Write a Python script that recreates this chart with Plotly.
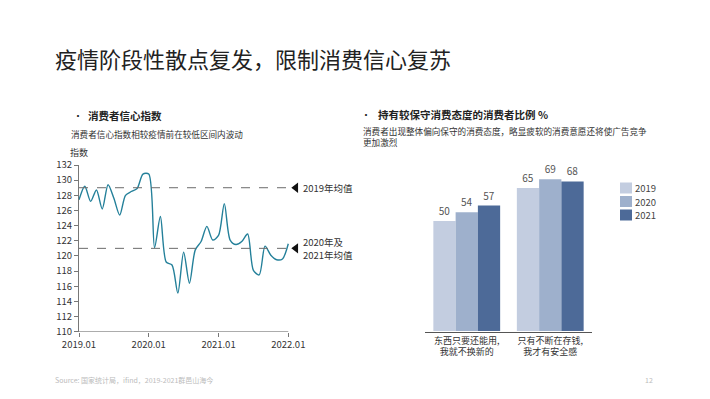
import plotly.graph_objects as go

# ---------------- data ----------------
months = list(range(37))  # 2019.01 .. 2022.01
confidence = [127.4, 129.2, 127.2, 128.7, 126.2, 129.4, 127.6, 125.4, 128.0, 128.5,
              128.9, 130.8, 130.8, 121.1, 125.2, 119.2, 118.8, 115.1, 120.5, 116.4,
              120.8, 121.9, 123.9, 122.1, 122.7, 126.9, 122.1, 121.5, 121.9, 122.9,
              118.1, 117.5, 121.3, 120.1, 119.5, 119.6, 121.6]
x_tickvals = [0, 12, 24, 36]
x_ticktext = ["2019.01", "2020.01", "2021.01", "2022.01"]
avg_2019 = 129
avg_2020_21 = 121
avg_label_2019 = "2019年均值"
avg_label_2020_21 = ["2020年及", "2021年均值"]

bar_categories = ["东西只要还能用,<br>我就不换新的", "只有不断在存钱,<br>我才有安全感"]
bar_years = ["2019", "2020", "2021"]
bar_values = {
    "2019": [50, 65],
    "2020": [54, 69],
    "2021": [57, 68],
}
bar_colors = {"2019": "#c3cde0", "2020": "#9eb0cc", "2021": "#4d6a98"}

W, H = 710, 399
FONT = "Noto Sans CJK SC"


def px(x):
    return x / W


def py(y):
    return 1 - y / H


fig = go.Figure()

# ---------------- line chart ----------------
fig.add_trace(go.Scatter(
    x=months, y=confidence, mode="lines",
    line=dict(color="#24809a", width=1.4, shape="spline", smoothing=0.8),
    xaxis="x", yaxis="y", showlegend=False, hoverinfo="skip"))

for val in (avg_2019, avg_2020_21):
    fig.add_trace(go.Scatter(
        x=[0, 36.6], y=[val, val], mode="lines",
        line=dict(color="#6b6b6b", width=1, dash="dash"),
        xaxis="x", yaxis="y", showlegend=False, hoverinfo="skip"))

fig.add_trace(go.Scatter(
    x=[37.3, 37.3], y=[avg_2019, avg_2020_21], mode="markers",
    marker=dict(symbol="triangle-left", size=9, color="#111111"),
    cliponaxis=False, xaxis="x", yaxis="y", showlegend=False, hoverinfo="skip"))

# ---------------- bar chart ----------------
for yr in bar_years:
    fig.add_trace(go.Bar(
        x=bar_categories, y=bar_values[yr], name=yr,
        marker=dict(color=bar_colors[yr], line=dict(width=0)),
        text=[str(v) for v in bar_values[yr]], textposition="outside",
        textfont=dict(family=FONT, size=10, color="#555555"),
        cliponaxis=False, xaxis="x2", yaxis="y2", hoverinfo="skip",
        showlegend=False))

fig.update_layout(
    width=W, height=H,
    margin=dict(l=0, r=0, t=0, b=0, autoexpand=False),
    paper_bgcolor="white", plot_bgcolor="white",
    font=dict(family=FONT, color="#333333"),
    barmode="group", bargap=0.2, bargroupgap=0,
    showlegend=False,
    xaxis=dict(domain=[px(79), px(297)], range=[0, 37.5], automargin=False,
               tickvals=x_tickvals, ticktext=x_ticktext,
               ticks="outside", ticklen=4, tickcolor="#777777",
               showline=False, showgrid=False, zeroline=False,
               tickfont=dict(family=FONT, size=9.5, color="#333333")),
    yaxis=dict(domain=[py(331.7), py(165)], range=[110, 132], automargin=False,
               tickvals=list(range(110, 133, 2)),
               ticks="outside", ticklen=4, tickcolor="#777777",
               showline=True, linecolor="#777777", linewidth=1,
               showgrid=False, zeroline=False,
               tickfont=dict(family=FONT, size=9.5, color="#333333")),
    xaxis2=dict(domain=[px(425), px(592)], range=[-0.5, 1.5], automargin=False,
                showline=True, linecolor="#555555", linewidth=1,
                ticks="", showgrid=False, zeroline=False,
                tickfont=dict(family=FONT, size=9, color="#333333")),
    yaxis2=dict(domain=[py(331), py(155)], range=[0, 80], automargin=False,
                visible=False, showgrid=False, zeroline=False),
)

# bottom axis line for line chart (spans only the data period)
fig.add_shape(type="line", xref="x", yref="y", x0=0, x1=36, y0=110, y1=110,
              line=dict(color="#777777", width=1))

annotations = []


def text(x, y, s, size, color="#333333", bold=False, xanchor="left", yanchor="middle",
         xref="paper", yref="paper", xshift=0, yshift=0, borderpad=1):
    annotations.append(dict(
        x=x, y=y, xref=xref, yref=yref, text=(f"<b>{s}</b>" if bold else s),
        showarrow=False, xanchor=xanchor, yanchor=yanchor, align="left",
        xshift=xshift, yshift=yshift, borderpad=borderpad,
        font=dict(family=FONT, size=size, color=color)))


# manual legend for the bar chart
for i, yr in enumerate(bar_years):
    yc = 188 + i * 13.5
    fig.add_shape(type="rect", xref="paper", yref="paper",
                  x0=px(620), x1=px(632), y0=py(yc + 5.5), y1=py(yc - 5.5),
                  fillcolor=bar_colors[yr], line=dict(width=0))
    text(px(634), py(yc), yr, 9.5, "#444444", borderpad=0)

text(px(53), py(58), "疫情阶段性散点复发，限制消费信心复苏", 22, "#222222")

text(px(71), py(115), "•", 10, "#222222")
text(px(86), py(115), "消费者信心指数", 10.5, "#222222", bold=True)
text(px(69), py(134), "消费者信心指数相较疫情前在较低区间内波动", 8.6, "#333333")
text(px(68), py(152), "指数", 9, "#333333")

text(px(359), py(114), "•", 10, "#222222")
text(px(376), py(114), "持有较保守消费态度的消费者比例 %", 10.5, "#222222", bold=True)
text(px(361), py(137), "消费者出现整体偏向保守的消费态度，略显疲软的消费意愿还将使广告竞争<br>更加激烈", 8.6, "#333333", yanchor="middle")

# average labels next to arrows
text(37.3, avg_2019, avg_label_2019, 9.5, "#333333", xref="x", yref="y", xshift=6, borderpad=0)
text(37.3, avg_2020_21, avg_label_2020_21[0], 9.5, "#333333", xref="x", yref="y",
     xshift=6, yshift=6.4, borderpad=0)
text(37.3, avg_2020_21, avg_label_2020_21[1], 9.5, "#333333", xref="x", yref="y",
     xshift=6, yshift=-6.4, borderpad=0)

text(px(53), py(380), "Source: 国家统计局，ifind，2019-2021群邑山海今", 7, "#bbbbbb")
text(px(655), py(380), "12", 7, "#bbbbbb", xanchor="right")

fig.update_layout(annotations=annotations)

fig.write_html("out.html", post_script="document.body.style.margin='0';",
               config={"displayModeBar": False})
